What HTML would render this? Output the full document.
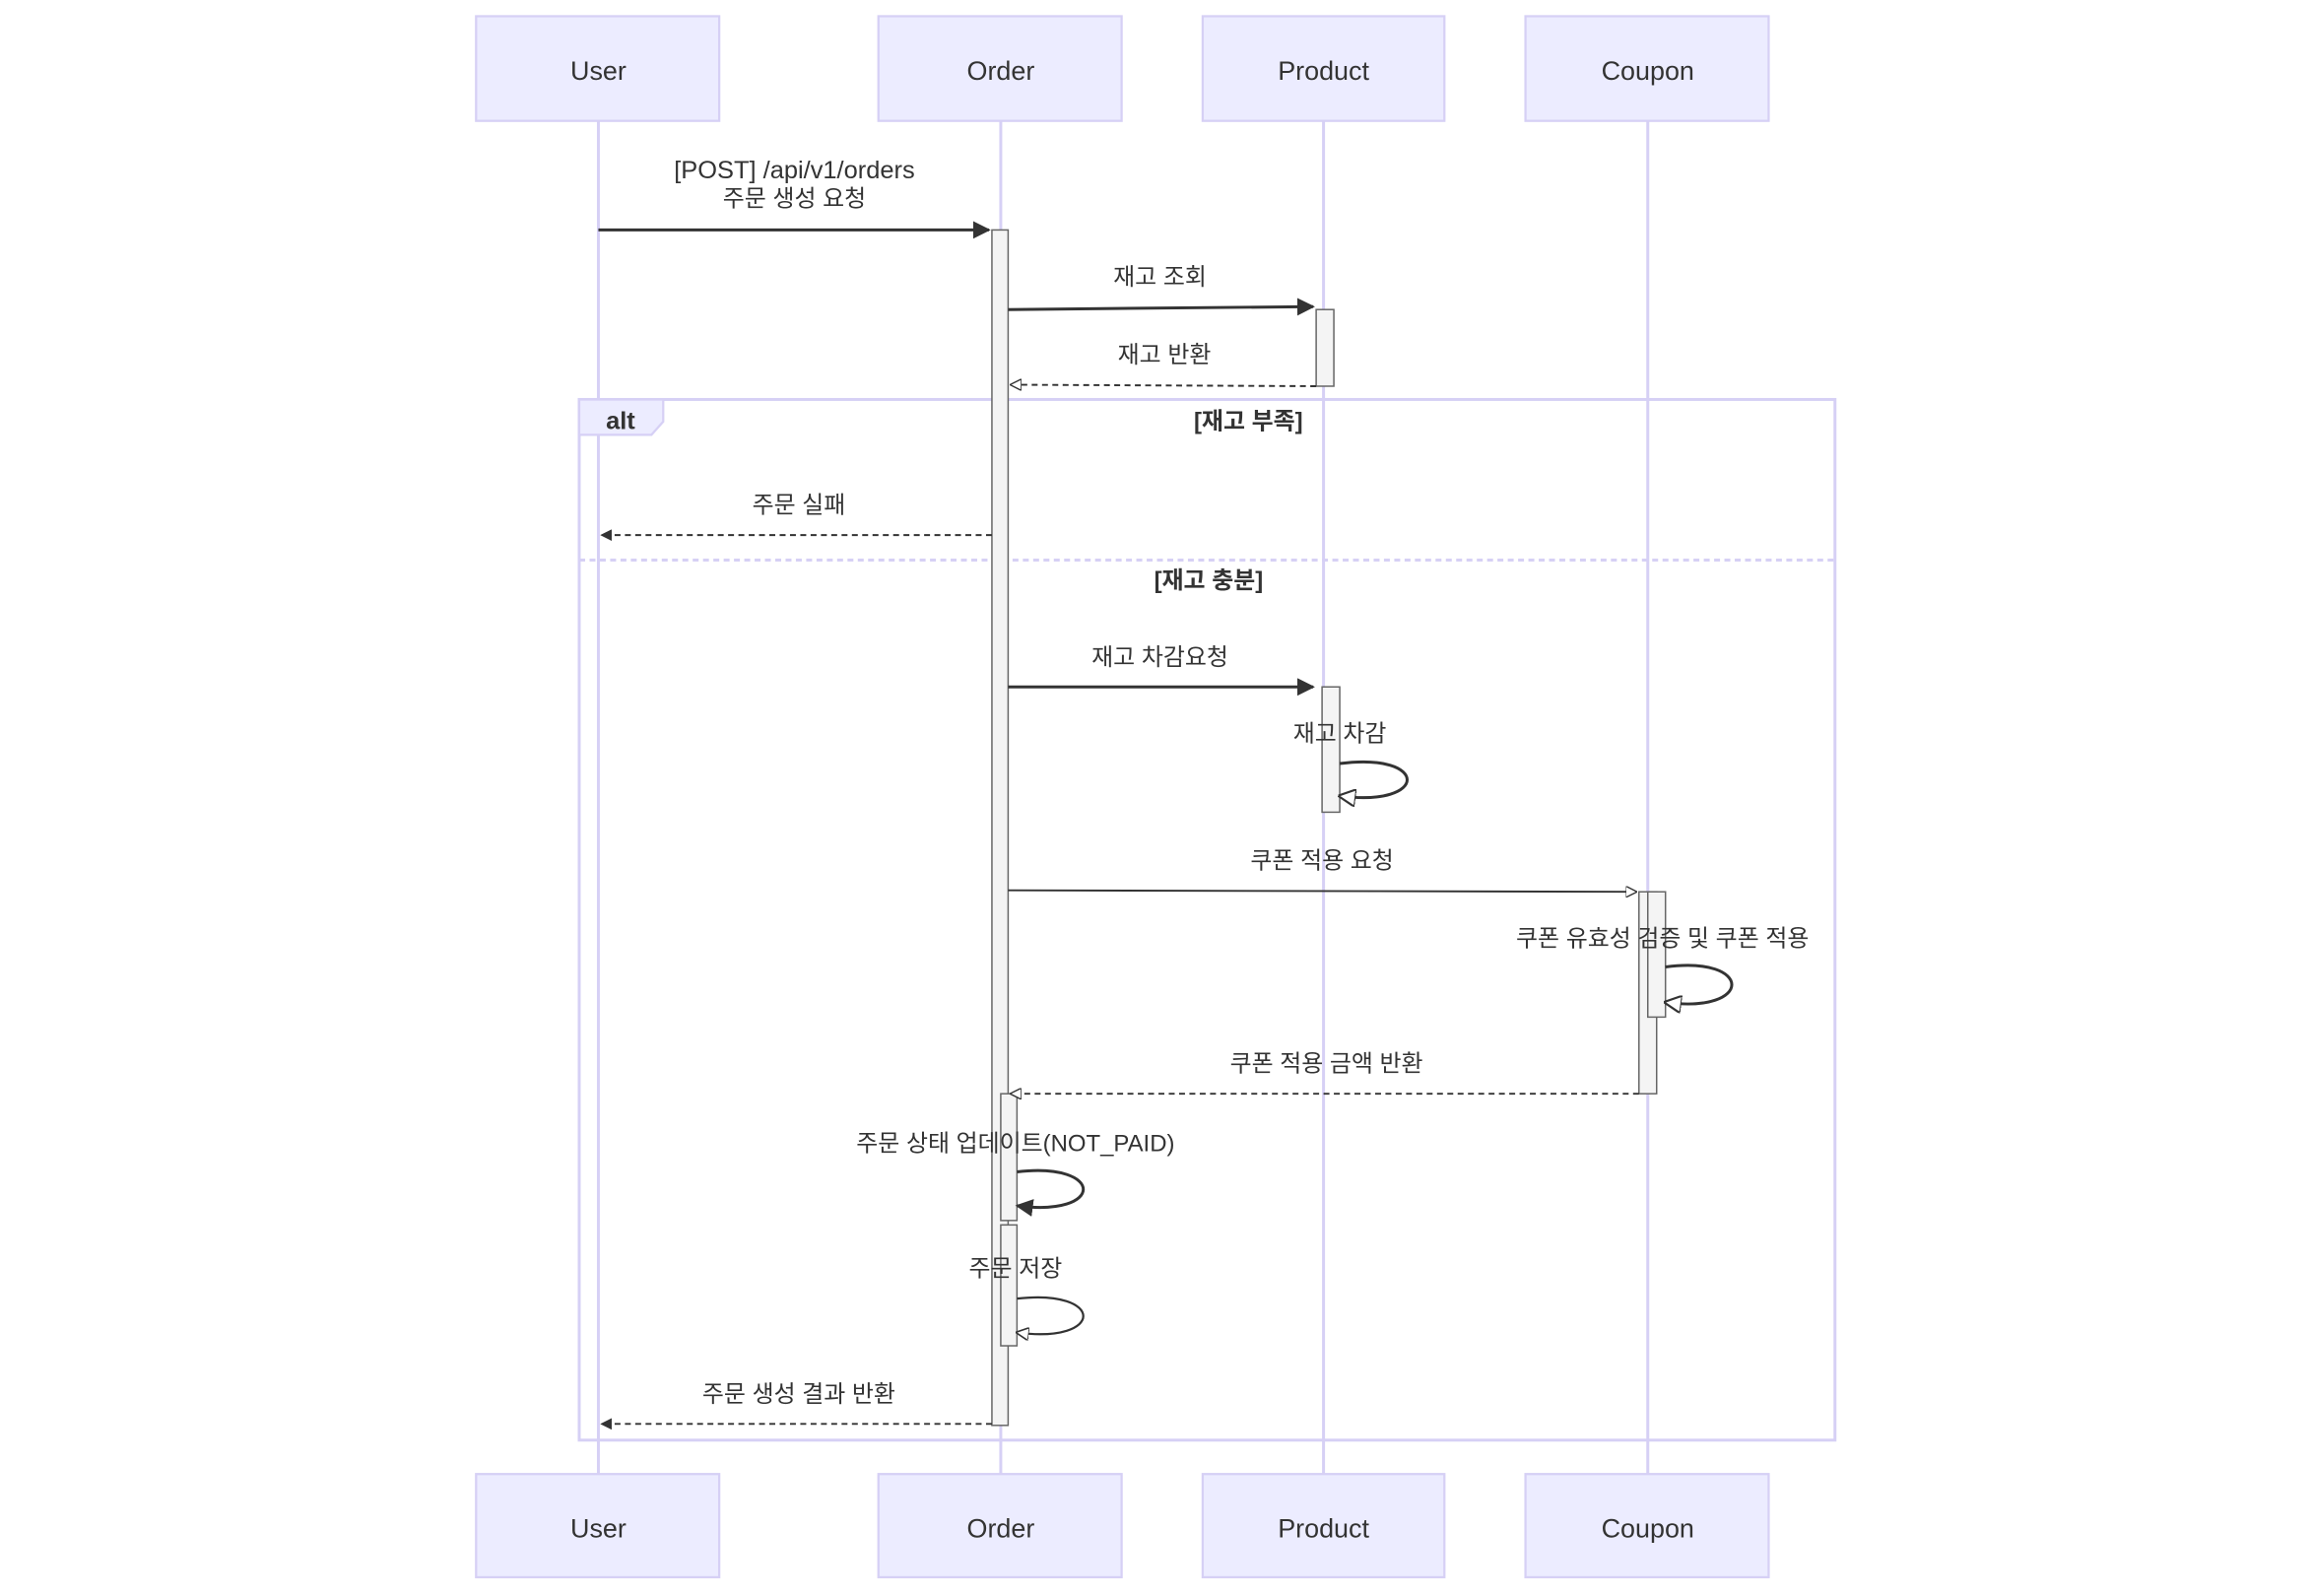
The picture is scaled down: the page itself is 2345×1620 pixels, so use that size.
<!DOCTYPE html>
<html><head><meta charset="utf-8">
<style>
html,body{margin:0;padding:0;background:#fff;}
svg{display:block;}
text{font-family:"Liberation Sans","Noto Sans CJK KR",sans-serif;fill:#333;}
</style></head>
<body>
<svg width="2345" height="1620" viewBox="0 0 1567.3 1082.7" preserveAspectRatio="xMinYMin meet" xmlns="http://www.w3.org/2000/svg">
<defs>
<marker id="af" viewBox="0 0 10 10" refX="9" refY="5" markerWidth="6" markerHeight="6" orient="auto"><path d="M0,0 L10,5 L0,10 z" fill="#333"/></marker>
<marker id="ao" viewBox="0 0 10 10" refX="9" refY="5" markerWidth="6" markerHeight="6" orient="auto"><path d="M0,0 L10,5 L0,10 z" fill="#fff" stroke="#333" stroke-width="1.2"/></marker>
</defs>
<g stroke="#d6d0f5" stroke-width="2">
<line x1="406" y1="82" x2="406" y2="1000"/>
<line x1="679" y1="82" x2="679" y2="1000"/>
<line x1="898" y1="82" x2="898" y2="1000"/>
<line x1="1118" y1="82" x2="1118" y2="1000"/>
</g>
<g fill="#ececff" stroke="#d6d0f5" stroke-width="1.5">
<rect x="323" y="11" width="165" height="71"/><rect x="596" y="11" width="165" height="71"/>
<rect x="816" y="11" width="164" height="71"/><rect x="1035" y="11" width="165" height="71"/>
<rect x="323" y="1000" width="165" height="70"/><rect x="596" y="1000" width="165" height="70"/>
<rect x="816" y="1000" width="164" height="70"/><rect x="1035" y="1000" width="165" height="70"/>
</g>
<g font-size="18" text-anchor="middle">
<text x="406" y="54">User</text><text x="679" y="54">Order</text><text x="898" y="54">Product</text><text x="1118" y="54">Coupon</text>
<text x="406" y="1043">User</text><text x="679" y="1043">Order</text><text x="898" y="1043">Product</text><text x="1118" y="1043">Coupon</text>
</g>
<rect x="393" y="271" width="852" height="706" fill="none" stroke="#d6d0f5" stroke-width="2"/>
<path d="M393,271 H450 V286 L442,295 H393 Z" fill="#ececff" stroke="#d6d0f5" stroke-width="1.5"/>
<line x1="393" y1="380" x2="1245" y2="380" stroke="#d6d0f5" stroke-width="2" stroke-dasharray="4,3"/>
<g fill="#f4f4f4" stroke="#666" stroke-width="1">
<rect x="673" y="156" width="11" height="811"/>
<rect x="893" y="210" width="12" height="52"/>
<rect x="897" y="466" width="12" height="85"/>
<rect x="1112" y="605" width="12" height="137"/>
<rect x="1118" y="605" width="12" height="85"/>
<rect x="679" y="742" width="11" height="86"/>
<rect x="679" y="831" width="11" height="82"/>
</g>
<g stroke="#333" stroke-width="2" fill="none">
<line x1="406" y1="156" x2="671" y2="156" marker-end="url(#af)"/>
<line x1="684" y1="210" x2="891" y2="208" marker-end="url(#af)"/>
<line x1="893" y1="262" x2="686" y2="261" stroke-width="1.3" stroke-dasharray="4,3" marker-end="url(#ao)"/>
<line x1="673" y1="363" x2="408" y2="363" stroke-width="1.3" stroke-dasharray="4,3" marker-end="url(#af)"/>
<line x1="684" y1="466" x2="891" y2="466" marker-end="url(#af)"/>
<path d="M909,518 C970,510 970,548 909,540" marker-end="url(#ao)"/>
<line x1="684" y1="604" x2="1110" y2="605" stroke-width="1.3" marker-end="url(#ao)"/>
<path d="M1130,656 C1190,648 1190,688 1130,680" marker-end="url(#ao)"/>
<line x1="1112" y1="742" x2="686" y2="742" stroke-width="1.3" stroke-dasharray="4,3" marker-end="url(#ao)"/>
<path d="M690,795 C750,788 750,826 690,818" marker-end="url(#af)"/>
<path d="M690,881 C750,874 750,912 690,904" stroke-width="1.5" marker-end="url(#ao)"/>
<line x1="673" y1="966" x2="408" y2="966" stroke-width="1.3" stroke-dasharray="4,3" marker-end="url(#af)"/>
</g>
<g font-size="16" text-anchor="middle">
<text x="539" y="121" font-size="17">[POST] /api/v1/orders</text>
<text x="539" y="140">주문 생성 요청</text>
<text x="787" y="193">재고 조회</text>
<text x="790" y="246">재고 반환</text>
<text x="421" y="291" font-size="17" font-weight="bold">alt</text>
<text x="847" y="291" font-weight="bold">[재고 부족]</text>
<text x="542" y="348">주문 실패</text>
<text x="820" y="399" font-weight="bold">[재고 충분]</text>
<text x="787" y="451">재고 차감요청</text>
<text x="909" y="503">재고 차감</text>
<text x="897" y="589">쿠폰 적용 요청</text>
<text x="1128" y="642">쿠폰 유효성 검증 및 쿠폰 적용</text>
<text x="900" y="727">쿠폰 적용 금액 반환</text>
<text x="689" y="781">주문 상태 업데이트(NOT_PAID)</text>
<text x="689" y="866">주문 저장</text>
<text x="542" y="951">주문 생성 결과 반환</text>
</g>
</svg>
</body></html>
